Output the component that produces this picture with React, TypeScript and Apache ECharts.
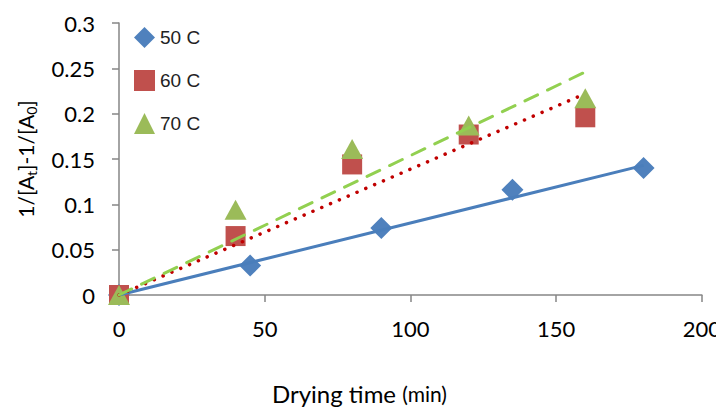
import React, { useEffect, useRef } from "react";
import * as echarts from "echarts";

const seriesNames = ["50 C", "60 C", "70 C"];
const time50 = [0, 45, 90, 135, 180];
const values50 = [0, 0.0325, 0.074, 0.116, 0.14];
const time60 = [0, 40, 80, 120, 160];
const values60 = [0, 0.065, 0.144, 0.177, 0.196];
const time70 = [0, 40, 80, 120, 160];
const values70 = [0, 0.094, 0.161, 0.187, 0.217];
// trendline end points (through origin)
const trend50 = [[0, 0], [180, 0.143]];
const trend60 = [[0, 0], [160, 0.222]];
const trend70 = [[0, 0], [160, 0.246]];
const xTicks = [0, 50, 100, 150, 200];
const yTicks = [0, 0.05, 0.1, 0.15, 0.2, 0.25, 0.3];

const colors = ["#4f81bd", "#c0504d", "#9bbb59"];
const FONT = "Lato";

export default function App() {
  const ref = useRef<HTMLDivElement>(null);
  useEffect(() => {
    if (!ref.current) return;
    const chart = echarts.init(ref.current, undefined, { renderer: "svg" });
    const zip = (xs: number[], ys: number[]) => xs.map((x, i) => [x, ys[i]]);
    chart.setOption({
      animation: false,
      grid: { left: 119, right: 18, top: 23, bottom: 110, containLabel: false },
      legend: {
        orient: "vertical",
        left: 129,
        top: 22,
        itemGap: 22,
        itemWidth: 21,
        itemHeight: 21,
        data: seriesNames,
        textStyle: { fontFamily: "Liberation Sans", fontSize: 19, color: "#222" },
      },
      xAxis: {
        type: "value",
        min: xTicks[0],
        max: xTicks[xTicks.length - 1],
        interval: 50,
        splitLine: { show: false },
        axisLine: { lineStyle: { color: "#868686", width: 1.5 } },
        axisTick: { show: true, length: 7, lineStyle: { color: "#868686", width: 1.5 } },
        axisLabel: { fontFamily: FONT, fontSize: 22, color: "#000", margin: 22 },
        name: "{a|Drying time }{b|(min)}",
        nameLocation: "middle",
        nameGap: 86,
        nameTextStyle: {
          fontFamily: FONT,
          fontSize: 22,
          padding: [0, 102, 0, 0],
          rich: {
            a: { fontFamily: FONT, fontSize: 24, color: "#000" },
            b: { fontFamily: FONT, fontSize: 21, color: "#000" },
          },
        },
      },
      yAxis: {
        type: "value",
        min: yTicks[0],
        max: yTicks[yTicks.length - 1],
        interval: 0.05,
        splitLine: { show: false },
        axisLine: { show: true, lineStyle: { color: "#868686", width: 1.5 } },
        axisTick: { show: true, length: 7, lineStyle: { color: "#868686", width: 1.5 } },
        axisLabel: { fontFamily: FONT, fontSize: 22, color: "#000", margin: 24 },
        name: "{a|1/[A}{s|t}{a|]-1/[A}{s|0}{a|]}",
        nameLocation: "middle",
        nameGap: 81,
        nameRotate: 90,
        nameTextStyle: {
          fontFamily: FONT,
          fontSize: 21,
          rich: {
            a: { fontFamily: FONT, fontSize: 21, color: "#000" },
            s: { fontFamily: FONT, fontSize: 14, color: "#000", padding: [12, 0, 0, 0] },
          },
        },
      },
      series: [
        {
          name: seriesNames[0],
          type: "scatter",
          symbol: "diamond",
          symbolSize: [22, 22],
          clip: false,
          itemStyle: { color: colors[0], opacity: 1 },
          data: zip(time50, values50),
          z: 2,
        },
        {
          name: seriesNames[1],
          type: "scatter",
          symbol: "rect",
          symbolSize: 20,
          clip: false,
          itemStyle: { color: colors[1], opacity: 1 },
          data: zip(time60, values60),
          z: 3,
        },
        {
          name: seriesNames[2],
          type: "scatter",
          symbol: "triangle",
          symbolSize: [22, 20],
          clip: false,
          itemStyle: { color: colors[2], opacity: 1 },
          data: zip(time70, values70),
          z: 4,
        },
        {
          type: "line",
          data: trend50,
          showSymbol: false,
          symbol: "none",
          lineStyle: { color: "#4a7ebb", width: 3 },
          z: 5,
        },
        {
          type: "line",
          data: trend60,
          showSymbol: false,
          symbol: "none",
          lineStyle: { color: "#c00000", width: 3.5, type: [0.1, 9.5], cap: "round" },
          z: 5,
        },
        {
          type: "line",
          data: trend70,
          showSymbol: false,
          symbol: "none",
          lineStyle: { color: "#92d050", width: 3, type: [14, 11], cap: "round" },
          z: 5,
        },
      ],
    });
    return () => chart.dispose();
  }, []);
  return <div ref={ref} style={{ width: 724, height: 410, marginLeft: -8, marginTop: -8 }} />;
}
